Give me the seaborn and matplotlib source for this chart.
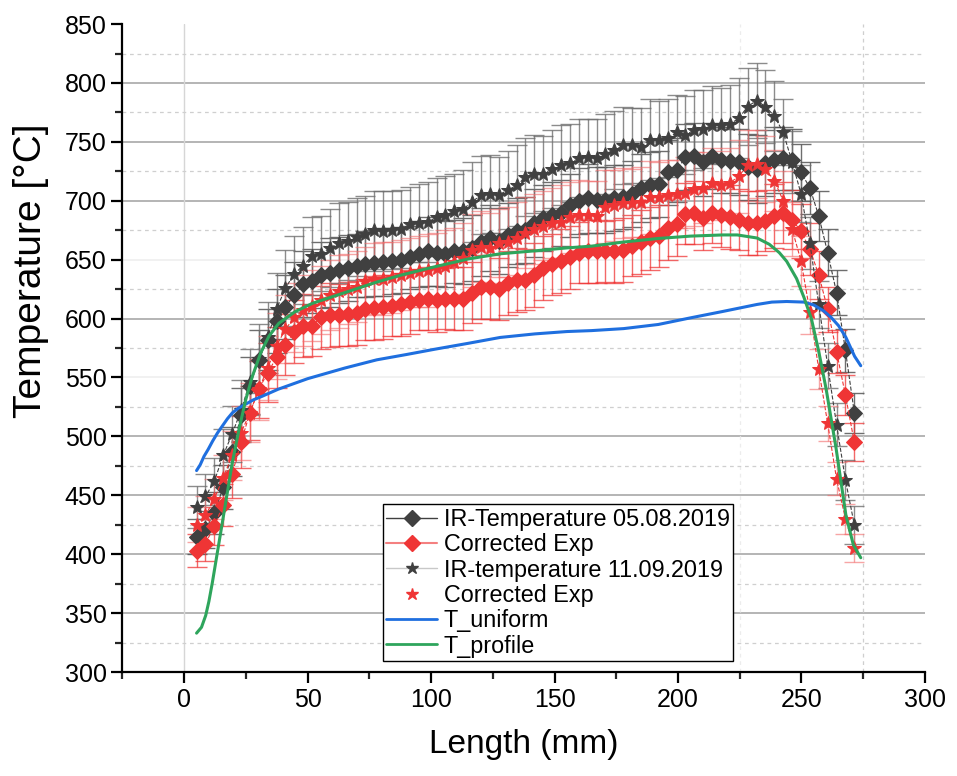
import numpy as np
import matplotlib
matplotlib.use("Agg")
import matplotlib.pyplot as plt
from matplotlib.lines import Line2D
from matplotlib.ticker import MultipleLocator
import seaborn as sns

# measurement positions (mm)
x_pos = [5.0, 8.6, 12.2, 15.8, 19.4, 23.0, 26.6, 30.2, 33.8, 37.4,
         41.0, 44.6, 48.2, 51.8, 55.4, 59.0, 62.6, 66.2, 69.8, 73.4,
         77.0, 80.6, 84.2, 87.8, 91.4, 95.0, 98.6, 102.2, 105.8, 109.4,
         113.0, 116.6, 120.2, 123.8, 127.4, 131.0, 134.6, 138.2, 141.8, 145.4,
         149.0, 152.6, 156.2, 159.8, 163.4, 167.0, 170.6, 174.2, 177.8, 181.4,
         185.0, 188.6, 192.2, 195.8, 199.4, 203.0, 206.6, 210.2, 213.8, 217.4,
         221.0, 224.6, 228.2, 231.8, 235.4, 239.0, 242.6, 246.2, 249.8, 253.4,
         257.0, 260.6, 264.2, 267.8, 271.4]

# IR-Temperature 05.08.2019 (diamonds)
ir_0508 = [415, 421, 435, 457, 487, 518, 543, 565, 582, 598,
           610, 620, 629, 632, 637, 639, 641, 643, 645, 646,
           647, 648, 649, 650, 652, 655, 657, 656, 655, 657,
           657, 660, 665, 668, 666, 671, 674, 675, 681, 685,
           688, 690, 696, 700, 702, 701, 701, 702, 703, 706,
           711, 713, 714, 724, 726, 737, 738, 733, 738, 735,
           734, 733, 729, 727, 732, 735, 736, 735, 724, 711,
           687, 656, 622, 573, 520]
err_0508 = [15, 16, 18, 19, 21, 23, 24, 25, 26, 27, 27, 28, 28, 27, 28, 29, 28, 28, 27, 28,
            28, 29, 28, 28, 27, 28, 29, 28, 28, 27, 28, 28, 29, 28, 28, 27, 28, 28, 29, 28,
            28, 28, 27, 28, 29, 28, 28, 28, 27, 28, 29, 28, 28, 28, 27, 28, 28, 29, 28, 28,
            27, 28, 28, 29, 28, 28, 27, 26, 24, 22, 21, 20, 19, 18, 17]

# Corrected Exp (diamonds)
corr_0508 = [403, 409, 424, 442, 468, 495, 520, 540, 554, 567,
             578, 589, 594, 594, 601, 603, 603, 604, 605, 608,
             609, 610, 611, 612, 614, 616, 617, 616, 617, 617,
             617, 622, 627, 627, 625, 630, 633, 633, 637, 643,
             646, 649, 652, 656, 657, 657, 657, 657, 658, 662,
             665, 668, 670, 677, 680, 689, 690, 685, 690, 688,
             686, 684, 681, 681, 683, 687, 690, 684, 674, 659,
             637, 608, 572, 535, 495]
err_corr_0508 = [14, 15, 16, 18, 20, 22, 23, 24, 25, 26, 26, 27, 27, 26, 27, 27, 26, 27, 27, 26,
                 27, 27, 26, 27, 27, 26, 27, 27, 26, 27, 27, 26, 27, 27, 26, 27, 27, 26, 27, 27,
                 26, 27, 27, 26, 27, 27, 26, 27, 27, 26, 27, 27, 26, 27, 27, 26, 27, 27, 26, 27,
                 27, 26, 27, 27, 26, 27, 26, 25, 23, 22, 20, 19, 18, 17, 16]

# IR-temperature 11.09.2019 (stars)
ir_1109 = [440, 449, 462, 484, 502, 522, 546, 566, 584, 608,
           626, 638, 645, 653, 655, 660, 664, 666, 669, 672,
           675, 674, 675, 676, 680, 681, 682, 686, 688, 691,
           693, 699, 705, 706, 705, 709, 713, 720, 723, 723,
           727, 730, 732, 736, 737, 736, 740, 743, 747, 747,
           746, 752, 752, 753, 758, 756, 760, 761, 764, 764,
           765, 770, 780, 785, 780, 772, 758, 733, 706, 664,
           612, 560, 510, 463, 425]
err_1109 = [18, 19, 20, 22, 24, 26, 28, 29, 30, 31, 32, 32, 33, 33, 32, 33, 34, 33, 33, 32,
            33, 34, 33, 33, 32, 33, 34, 33, 33, 32, 33, 34, 33, 33, 32, 33, 34, 33, 33, 32,
            33, 34, 33, 33, 32, 33, 34, 33, 33, 32, 33, 34, 33, 33, 32, 33, 34, 33, 33, 32,
            33, 34, 33, 32, 31, 30, 28, 26, 24, 22, 20, 19, 18, 17, 16]

# Corrected Exp (stars)
corr_1109 = [425, 433, 447, 465, 484, 503, 520, 540, 558, 577,
             591, 601, 607, 611, 616, 620, 623, 625, 627, 632,
             634, 634, 635, 637, 639, 640, 641, 643, 645, 648,
             651, 658, 661, 660, 664, 665, 668, 673, 676, 679,
             681, 682, 686, 688, 688, 687, 695, 696, 698, 698,
             699, 703, 703, 705, 706, 707, 710, 711, 715, 713,
             715, 721, 730, 731, 727, 717, 700, 676, 649, 606,
             557, 511, 464, 430, 405]
err_corr_1109 = [15, 16, 17, 19, 21, 23, 25, 26, 27, 28, 29, 29, 30, 30, 29, 30, 31, 30, 30, 29,
                 30, 31, 30, 30, 29, 30, 31, 30, 30, 29, 30, 31, 30, 30, 29, 30, 31, 30, 30, 29,
                 30, 31, 30, 30, 29, 30, 31, 30, 30, 29, 30, 31, 30, 30, 29, 30, 31, 30, 30, 29,
                 30, 31, 30, 29, 28, 26, 25, 23, 21, 19, 17, 15, 14, 13, 12]

# simulations
x_uniform = [5, 6.5, 8, 9.7, 11.5, 13.5, 15.5, 17.5, 19.5, 22, 25, 28, 31.5, 38, 50, 65, 78,
             90, 101.5, 115, 128, 142, 155, 165, 178, 192, 205, 218, 232, 238, 244, 251,
             255, 259, 262, 265, 268, 271.5, 274]
t_uniform = [471, 476, 483, 489, 496, 503, 509, 515, 520, 524, 527.5, 531, 534, 540, 549,
             558, 565, 569.5, 574, 579, 584, 587, 589, 589.8, 591.5, 595, 600.6, 606, 612,
             614, 614.5, 614, 611.5, 606.5, 601, 594, 584, 568, 560]

x_profile = [5, 7, 8.7, 10, 11.4, 14.1, 16.8, 19.5, 22.2, 24.9, 27.6, 31, 34.3, 38.3, 45, 52,
             65, 78, 88, 101.5, 115, 128, 142, 155, 165, 178, 192, 205, 218, 224, 232, 237,
             241, 244, 248, 251, 254, 257, 260, 264, 268, 271, 274]
t_profile = [333, 338, 348, 360, 376, 410, 444, 478, 506, 531, 551, 571, 585, 596, 606, 613,
             622, 631, 637, 644, 650.6, 655, 657.5, 660, 661.5, 665, 668, 670, 671, 671, 668.4,
             663, 656, 648.6, 634, 618, 600, 572, 540, 490, 433, 408, 397]

# grid levels
grid_solid = [350, 400, 450, 500, 600, 700, 750, 800]
grid_faint = [550, 650]

gray = "#404040"
red = "#ef3535"
blue = "#1f6fdf"
green = "#2ea55c"

sns.set_style("ticks")
plt.rcParams["font.family"] = ["Liberation Sans", "DejaVu Sans"]
plt.rcParams["text.color"] = "black"
plt.rcParams["axes.labelcolor"] = "black"

fig = plt.figure(figsize=(9.57, 7.76), dpi=100)
ax = fig.add_axes([0.128, 0.134, 0.8385, 0.835])

# error bars
ax.errorbar(x_pos, ir_0508, yerr=err_0508, fmt="none", ecolor="#555555", elinewidth=1,
            capsize=7, capthick=1, alpha=0.85, zorder=2)
ax.errorbar(x_pos, corr_0508, yerr=err_corr_0508, fmt="none", ecolor=red, elinewidth=1,
            capsize=7, capthick=1, alpha=0.75, zorder=2)
ax.errorbar(x_pos, ir_1109, yerr=err_1109, fmt="none", ecolor="#707070", elinewidth=1,
            capsize=7, capthick=1, alpha=0.8, zorder=2)
ax.errorbar(x_pos, corr_1109, yerr=err_corr_1109, fmt="none", ecolor="#f26a6a", elinewidth=1,
            capsize=7, capthick=1, alpha=0.6, zorder=2)

# measured points
sns.lineplot(x=x_pos, y=ir_0508, ax=ax, color=gray, lw=0.8, linestyle="--", marker="D",
             markersize=8, markeredgecolor=gray, sort=False, zorder=3)
sns.lineplot(x=x_pos, y=corr_0508, ax=ax, color=red, lw=0.8, linestyle="--", marker="D",
             markersize=8, markeredgecolor=red, sort=False, zorder=3)
sns.lineplot(x=x_pos, y=ir_1109, ax=ax, color=gray, lw=0.8, linestyle="--", marker="*",
             markersize=10, markeredgecolor=gray, sort=False, zorder=3)
sns.lineplot(x=x_pos, y=corr_1109, ax=ax, color=red, lw=0.8, linestyle="--", marker="*",
             markersize=10, markeredgecolor=red, sort=False, zorder=3)

# simulations
sns.lineplot(x=x_uniform, y=t_uniform, ax=ax, color=blue, lw=2.2, sort=False, zorder=4)
sns.lineplot(x=x_profile, y=t_profile, ax=ax, color=green, lw=2.2, sort=False, zorder=4)

ax.set_xlim(-25, 300)
ax.set_ylim(300, 850)
ax.xaxis.set_major_locator(MultipleLocator(50))
ax.xaxis.set_minor_locator(MultipleLocator(25))
ax.yaxis.set_major_locator(MultipleLocator(50))
ax.yaxis.set_minor_locator(MultipleLocator(25))

# grid
ax.yaxis.grid(True, which="minor", color="#cfcfcf", lw=0.9, ls=(0, (3, 3)), zorder=0)
for g in grid_solid:
    ax.axhline(g, color="#a8a8a8", lw=1.2, zorder=0)
for g in grid_faint:
    ax.axhline(g, color="#efefef", lw=1.2, zorder=0)
ax.axvline(0, color="#d6d6d6", lw=1, zorder=0)
ax.axvline(225, color="#ececec", lw=0.9, ls=(0, (3, 3)), zorder=0)
ax.axvline(275, color="#cfcfcf", lw=0.9, ls=(0, (3, 3)), zorder=0)

sns.despine(ax=ax)
for s in ("left", "bottom"):
    ax.spines[s].set_linewidth(1.6)
    ax.spines[s].set_color("black")
ax.tick_params(which="major", direction="out", length=8, width=1.6, labelsize=18, colors="black")
ax.tick_params(which="minor", direction="out", length=5, width=1.6)

ax.set_xlabel("Length (mm)", fontsize=24, labelpad=12)
ax.set_ylabel("Temperature [°C]", fontsize=28)
ax.yaxis.set_label_coords(-0.092, 0.62)

handles = [
    Line2D([], [], color=gray, lw=1, marker="D", markersize=8),
    Line2D([], [], color="#f48080", lw=1.5, marker="D", markersize=8,
           markerfacecolor=red, markeredgecolor=red),
    Line2D([], [], color="#c8c8c8", lw=1, marker="*", markersize=9,
           markerfacecolor=gray, markeredgecolor=gray),
    Line2D([], [], ls="none", marker="*", markersize=9, color=red),
    Line2D([], [], color=blue, lw=2),
    Line2D([], [], color=green, lw=2),
]
labels = ["IR-Temperature 05.08.2019", "Corrected Exp", "IR-temperature 11.09.2019",
          "Corrected Exp", "T_uniform", "T_profile"]
leg = ax.legend(handles, labels, loc="lower left", bbox_to_anchor=(0.3246, 0.017),
                fontsize=16.8, frameon=True, fancybox=False, framealpha=1,
                edgecolor="black", handlelength=2.15, handletextpad=0.3,
                labelspacing=0.1, borderpad=0.15, borderaxespad=0)
leg.get_frame().set_linewidth(1)

fig.savefig("out.png", dpi=100)
